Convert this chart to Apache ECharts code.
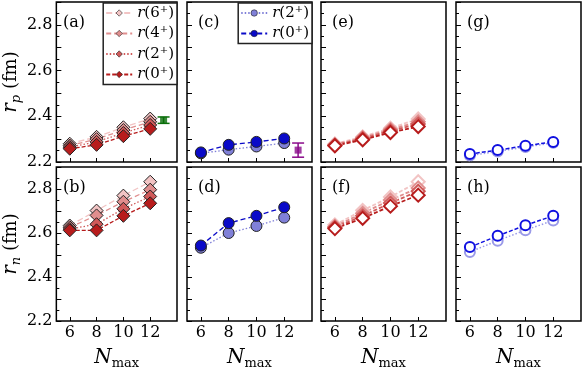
<!DOCTYPE html>
<html>
<head>
<meta charset="utf-8">
<script src="https://cdn.jsdelivr.net/npm/echarts@6/dist/echarts.min.js"></script>
<style>
  html, body { margin: 0; padding: 0; background: #fff; }
  #chart { width: 582px; height: 371px; }
</style>
</head>
<body>
<div id="chart"></div>
<script>
// N_max values
const nmax = [6, 8, 10, 12];
const xTicks = [6, 8, 10, 12];

// (a) r_p, filled diamonds
const rpA0 = [2.258, 2.275, 2.313, 2.345];
const rpA2 = [2.265, 2.288, 2.327, 2.362];
const rpA4 = [2.272, 2.300, 2.340, 2.376];
const rpA6 = [2.280, 2.310, 2.352, 2.390];
// (b) r_n, filled diamonds
const rnB0 = [2.612, 2.612, 2.678, 2.735];
const rnB2 = [2.618, 2.640, 2.710, 2.766];
const rnB4 = [2.626, 2.680, 2.742, 2.797];
const rnB6 = [2.634, 2.702, 2.770, 2.833];
// (c) r_p, filled circles
const rpC0 = [2.242, 2.275, 2.288, 2.303];
const rpC2 = [2.238, 2.254, 2.268, 2.283];
// (d) r_n, filled circles
const rnD0 = [2.543, 2.645, 2.678, 2.717];
const rnD2 = [2.533, 2.600, 2.632, 2.670];
// (e) r_p, open diamonds
const rpE0 = [2.271, 2.297, 2.329, 2.355];
const rpE2 = [2.273, 2.302, 2.336, 2.366];
const rpE4 = [2.276, 2.306, 2.342, 2.376];
const rpE6 = [2.279, 2.310, 2.348, 2.388];
// (f) r_n, open diamonds
const rnF0 = [2.620, 2.667, 2.722, 2.772];
const rnF2 = [2.625, 2.678, 2.736, 2.790];
const rnF4 = [2.630, 2.690, 2.750, 2.805];
const rnF6 = [2.637, 2.703, 2.764, 2.833];
// (g) r_p, open circles
const rpG0 = [2.235, 2.252, 2.271, 2.288];
const rpG2 = [2.228, 2.246, 2.266, 2.284];
// (h) r_n, open circles
const rnH0 = [2.536, 2.587, 2.635, 2.678];
const rnH2 = [2.514, 2.565, 2.613, 2.657];
// experiment: [N, value, error]
const expA = [13, 2.383, 0.014];
const expC = [13, 2.252, 0.031];

const panelLabels = ['(a)', '(b)', '(c)', '(d)', '(e)', '(f)', '(g)', '(h)'];

const FONT = 'DejaVu Serif';
const reds = { 0: '#b71c1c', 2: '#d05a5a', 4: '#e08e8e', 6: '#f2c4c4' };
const redDash = { 0: [4, 2], 2: [1.5, 2], 4: [5, 3], 6: [6, 3] };
const blues = { 0: '#0a0ac8', 2: '#8080d8' };
const blueOpen = { 0: '#1010e0', 2: '#9a9ae8' };

const lefts = [52, 187, 321, 456];
const grids = [], xAxes = [], yAxes = [], titles = [];
for (let c = 0; c < 4; c++) {
  for (let r = 0; r < 2; r++) {
    const top = r === 0 ? 2 : 167;
    const height = r === 0 ? 160 : 162;
    grids.push({
      left: lefts[c], top: top, width: 125, height: height,
      show: true, borderColor: '#000', borderWidth: 1.5, backgroundColor: '#fff'
    });
    const idx = grids.length - 1;
    xAxes.push({
      type: 'value', gridIndex: idx, min: 5, max: 14,
      axisLine: { show: false },
      splitLine: { show: false },
      axisTick: { inside: true, length: 4, customValues: xTicks, lineStyle: { color: '#000' } },
      axisLabel: {
        show: r === 1, customValues: xTicks, color: '#000',
        fontFamily: FONT, fontSize: 16, margin: 4
      },
      name: r === 1 ? '{i|N}{s|max}' : '',
      nameLocation: 'middle', nameGap: 25,
      nameTextStyle: {
        fontFamily: FONT, color: '#000',
        rich: {
          i: { fontFamily: FONT, fontStyle: 'italic', fontSize: 20, lineHeight: 24 },
          s: { fontFamily: FONT, fontSize: 13, lineHeight: 24, verticalAlign: 'bottom', padding: [10, 0, 0, 0] }
        }
      }
    });
    yAxes.push({
      type: 'value', gridIndex: idx, min: 2.2, max: 2.9, interval: 0.1,
      axisLine: { show: false },
      splitLine: { show: false },
      axisTick: { inside: true, length: 5, lineStyle: { color: '#000' } },
      minorTick: { show: true, splitNumber: 2, length: 3, lineStyle: { color: '#000' } },
      axisLabel: {
        show: c === 0, color: '#000', fontFamily: FONT, fontSize: 16, margin: 4,
        formatter: v => (Math.round(v * 10) % 2 === 0 && v < 2.85) ? v.toFixed(1) : ''
      },
      name: c === 0 ? (r === 0 ? '{i|r}{s|p}{n| (fm)}' : '{i|r}{s|n}{n| (fm)}') : '',
      nameLocation: 'middle', nameGap: 30, nameRotate: 90,
      nameTextStyle: {
        color: '#000',
        rich: {
          i: { fontFamily: FONT, fontStyle: 'italic', fontSize: 20, lineHeight: 24 },
          s: { fontFamily: FONT, fontStyle: 'italic', fontSize: 13, lineHeight: 24, verticalAlign: 'bottom', padding: [9, 0, 0, 0] },
          n: { fontFamily: FONT, fontSize: 18, lineHeight: 24 }
        }
      }
    });
    titles.push({
      text: panelLabels[idx], left: lefts[c] + 6, top: top + 8,
      textStyle: { fontFamily: FONT, fontSize: 16, fontWeight: 'normal', color: '#000' }
    });
  }
}

function pts(arr) { return nmax.map((x, i) => [x, arr[i]]); }

const series = [];
function add(name, arr, grid, o) {
  series.push({
    name: name, type: 'line', xAxisIndex: grid, yAxisIndex: grid,
    data: pts(arr), symbol: o.symbol, symbolSize: o.size,
    itemStyle: { color: o.fill, borderColor: o.edge, borderWidth: o.bw, opacity: 1 },
    lineStyle: { color: o.line, width: o.lw, type: o.dash },
    emphasis: { disabled: true }, z: 2
  });
}

// (a) and (b): filled diamonds, black edges
[[6, rpA6, rnB6], [4, rpA4, rnB4], [2, rpA2, rnB2], [0, rpA0, rnB0]].forEach(([j, ra, rb]) => {
  const o = { symbol: 'diamond', size: 13, fill: reds[j], edge: '#222', bw: 1, line: reds[j], lw: 1.3, dash: redDash[j] };
  add('a' + j, ra, 0, o);
  add('b' + j, rb, 1, o);
});
// (c) and (d): filled circles
[[2, rpC2, rnD2], [0, rpC0, rnD0]].forEach(([j, rc, rd]) => {
  const o = { symbol: 'circle', size: 11, fill: blues[j], edge: '#222', bw: 1, line: blues[j], lw: 1.3, dash: j === 0 ? [5, 3] : [1.5, 2] };
  add('c' + j, rc, 2, o);
  add('d' + j, rd, 3, o);
});
// (e) and (f): open diamonds
[[6, rpE6, rnF6], [4, rpE4, rnF4], [2, rpE2, rnF2], [0, rpE0, rnF0]].forEach(([j, re, rf]) => {
  const o = { symbol: 'diamond', size: 13, fill: '#fff', edge: reds[j], bw: 2, line: reds[j], lw: 1.8, dash: [4, 2] };
  add('e' + j, re, 4, o);
  add('f' + j, rf, 5, o);
});
// (g) and (h): open circles
[[2, rpG2, rnH2], [0, rpG0, rnH0]].forEach(([j, rg, rh]) => {
  const o = { symbol: 'circle', size: 10, fill: '#fff', edge: blueOpen[j], bw: 2, line: blueOpen[j], lw: 1.5, dash: j === 0 ? [4, 2] : [1.5, 2] };
  add('g' + j, rg, 6, o);
  add('h' + j, rh, 7, o);
});

// experimental points with error bars
function errBar(exp, grid, color) {
  series.push({
    type: 'custom', xAxisIndex: grid, yAxisIndex: grid, z: 3,
    data: [[exp[0], exp[1] - exp[2], exp[1] + exp[2]]],
    renderItem: (params, api) => {
      const lo = api.coord([api.value(0), api.value(1)]);
      const hi = api.coord([api.value(0), api.value(2)]);
      const st = { stroke: color, lineWidth: 1.5 };
      return {
        type: 'group', children: [
          { type: 'line', shape: { x1: lo[0], y1: lo[1], x2: hi[0], y2: hi[1] }, style: st },
          { type: 'line', shape: { x1: lo[0] - 6, y1: lo[1], x2: lo[0] + 6, y2: lo[1] }, style: st },
          { type: 'line', shape: { x1: hi[0] - 6, y1: hi[1], x2: hi[0] + 6, y2: hi[1] }, style: st }
        ]
      };
    }
  });
  series.push({
    type: 'scatter', xAxisIndex: grid, yAxisIndex: grid, z: 4,
    data: [[exp[0], exp[1]]], symbol: 'rect', symbolSize: 7,
    itemStyle: { color: color }
  });
}
errBar(expA, 0, '#0a6e0a');
errBar(expC, 2, '#8a0a8a');

const legendText = {
  fontFamily: FONT, fontSize: 15, color: '#000', lineHeight: 18,
  rich: {
    i: { fontFamily: FONT, fontStyle: 'italic', fontSize: 15, lineHeight: 18 },
    s: { fontFamily: FONT, fontSize: 10, lineHeight: 10, verticalAlign: 'top' }
  }
};
const legendBase = {
  orient: 'vertical', itemWidth: 26, itemHeight: 8, itemGap: 2.5,
  backgroundColor: '#fff', borderColor: '#222', borderWidth: 1.5,
  padding: [1, 3, 1, 2], textStyle: legendText,
  itemStyle: { borderWidth: 0.6 },
  formatter: name => '{i|r}(' + name.slice(1) + '{s|+})',
  selectedMode: false
};

const chart = echarts.init(document.getElementById('chart'));
chart.setOption({
  animation: false,
  backgroundColor: '#fff',
  title: titles,
  grid: grids,
  xAxis: xAxes,
  yAxis: yAxes,
  legend: [
    Object.assign({}, legendBase, { right: 582 - 177, top: 3, data: ['a6', 'a4', 'a2', 'a0'] }),
    Object.assign({}, legendBase, { right: 582 - 312, top: 3, data: ['c2', 'c0'] })
  ],
  series: series
});
</script>
</body>
</html>
